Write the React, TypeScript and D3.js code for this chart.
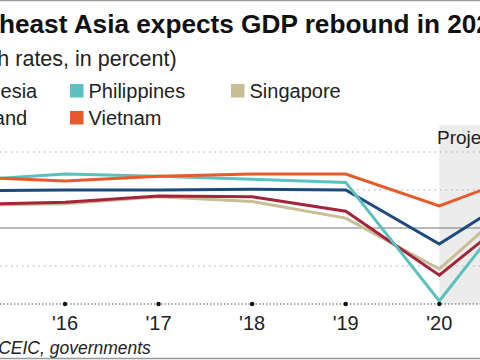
import React from "react";
import * as d3 from "d3";

// growth rates, in percent (2021 = projection)
const years = [2015, 2016, 2017, 2018, 2019, 2020, 2021];
const indonesia = [4.9, 5.0, 5.0, 5.1, 5.0, -2.1, 5.7];
const philippines = [6.3, 7.1, 6.8, 6.4, 6.0, -9.6, 6.1];
const singapore = [3.0, 3.2, 4.1, 3.5, 1.3, -5.4, 5.5];
const thailand = [3.1, 3.4, 4.2, 4.1, 2.2, -6.2, 3.7];
const vietnam = [6.7, 6.2, 6.8, 7.1, 7.1, 2.9, 7.5];

const tickYears = [2016, 2017, 2018, 2019, 2020];
const gridValues = [10, 5, -5];

const series = [
  { name: "Singapore", values: singapore, color: "#c9bd95" },
  { name: "Thailand", values: thailand, color: "#a4253a" },
  { name: "Indonesia", values: indonesia, color: "#1c4a7e" },
  { name: "Philippines", values: philippines, color: "#5cc1be" },
  { name: "Vietnam", values: vietnam, color: "#e95a2b" },
];

const legend = [
  { name: "Indonesia", color: "#1c4a7e", col: 0, row: 0 },
  { name: "Philippines", color: "#5cc1be", col: 1, row: 0 },
  { name: "Singapore", color: "#c9bd95", col: 2, row: 0 },
  { name: "Thailand", color: "#a4253a", col: 0, row: 1 },
  { name: "Vietnam", color: "#e95a2b", col: 1, row: 1 },
];

const font = "'Liberation Sans', Arial, Helvetica, sans-serif";

export default function App() {
  const width = 480;
  const height = 360;

  const x = d3.scaleLinear().domain([2016, 2020]).range([65, 439.3]);
  const y = d3.scaleLinear().domain([-10, 10]).range([304, 152]);

  const line = d3
    .line<number>()
    .x((d, i) => x(years[i]))
    .y((d) => y(d));

  const colX = [-68, 70, 231];
  const rowY = [84, 111];

  return (
    <div style={{ position: "fixed", left: 0, top: 0 }}>
      <svg width={width} height={height} style={{ display: "block", background: "#fff" }} fontFamily={font}>
        <line x1={0} x2={width} y1={0.5} y2={0.5} stroke="#999" strokeWidth={1.5} />

        <text x={-59.2} y={33} fontSize={26.2} fontWeight="bold" fill="#111">
          Southeast Asia expects GDP rebound in 2021
        </text>
        <text x={-187.5} y={66} fontSize={21.5} fill="#222">
          (Annual GDP growth rates, in percent)
        </text>

        {legend.map((d) => (
          <g key={d.name}>
            <rect x={colX[d.col]} y={rowY[d.row]} width={13.5} height={13.5} fill={d.color} />
            <text x={colX[d.col] + 18.5} y={rowY[d.row] + 13.5} fontSize={20} fill="#222">
              {d.name}
            </text>
          </g>
        ))}

        <rect x={x(2020)} y={125} width={width - x(2020)} height={y(-10) - 125} fill="#ececec" />
        <text x={437} y={144} fontSize={19} fill="#222">
          Projection
        </text>

        {gridValues.map((v) => (
          <line key={v} x1={0} x2={width} y1={y(v)} y2={y(v)} stroke="#aaa" strokeWidth={1} strokeDasharray="1.5 4" />
        ))}
        <line x1={0} x2={width} y1={y(0)} y2={y(0)} stroke="#777" strokeWidth={1} />
        <line x1={0} x2={width} y1={y(-10)} y2={y(-10)} stroke="#555" strokeWidth={1} strokeDasharray="1.5 2" />

        {series.map((s) => (
          <path key={s.name} d={line(s.values) || ""} fill="none" stroke={s.color} strokeWidth={3} strokeLinejoin="miter" />
        ))}

        {tickYears.map((t) => (
          <g key={t}>
            <circle cx={x(t)} cy={y(-10)} r={2.2} fill="#111" />
            <text x={x(t)} y={330} fontSize={20} textAnchor="middle" fill="#222">
              {"'" + String(t).slice(2)}
            </text>
          </g>
        ))}

        <text x={-67} y={354} fontSize={17.5} fontStyle="italic" fill="#222">
          Source: CEIC, governments
        </text>
        <line x1={0} x2={width} y1={358.5} y2={358.5} stroke="#999" strokeWidth={1.5} />
      </svg>
    </div>
  );
}
